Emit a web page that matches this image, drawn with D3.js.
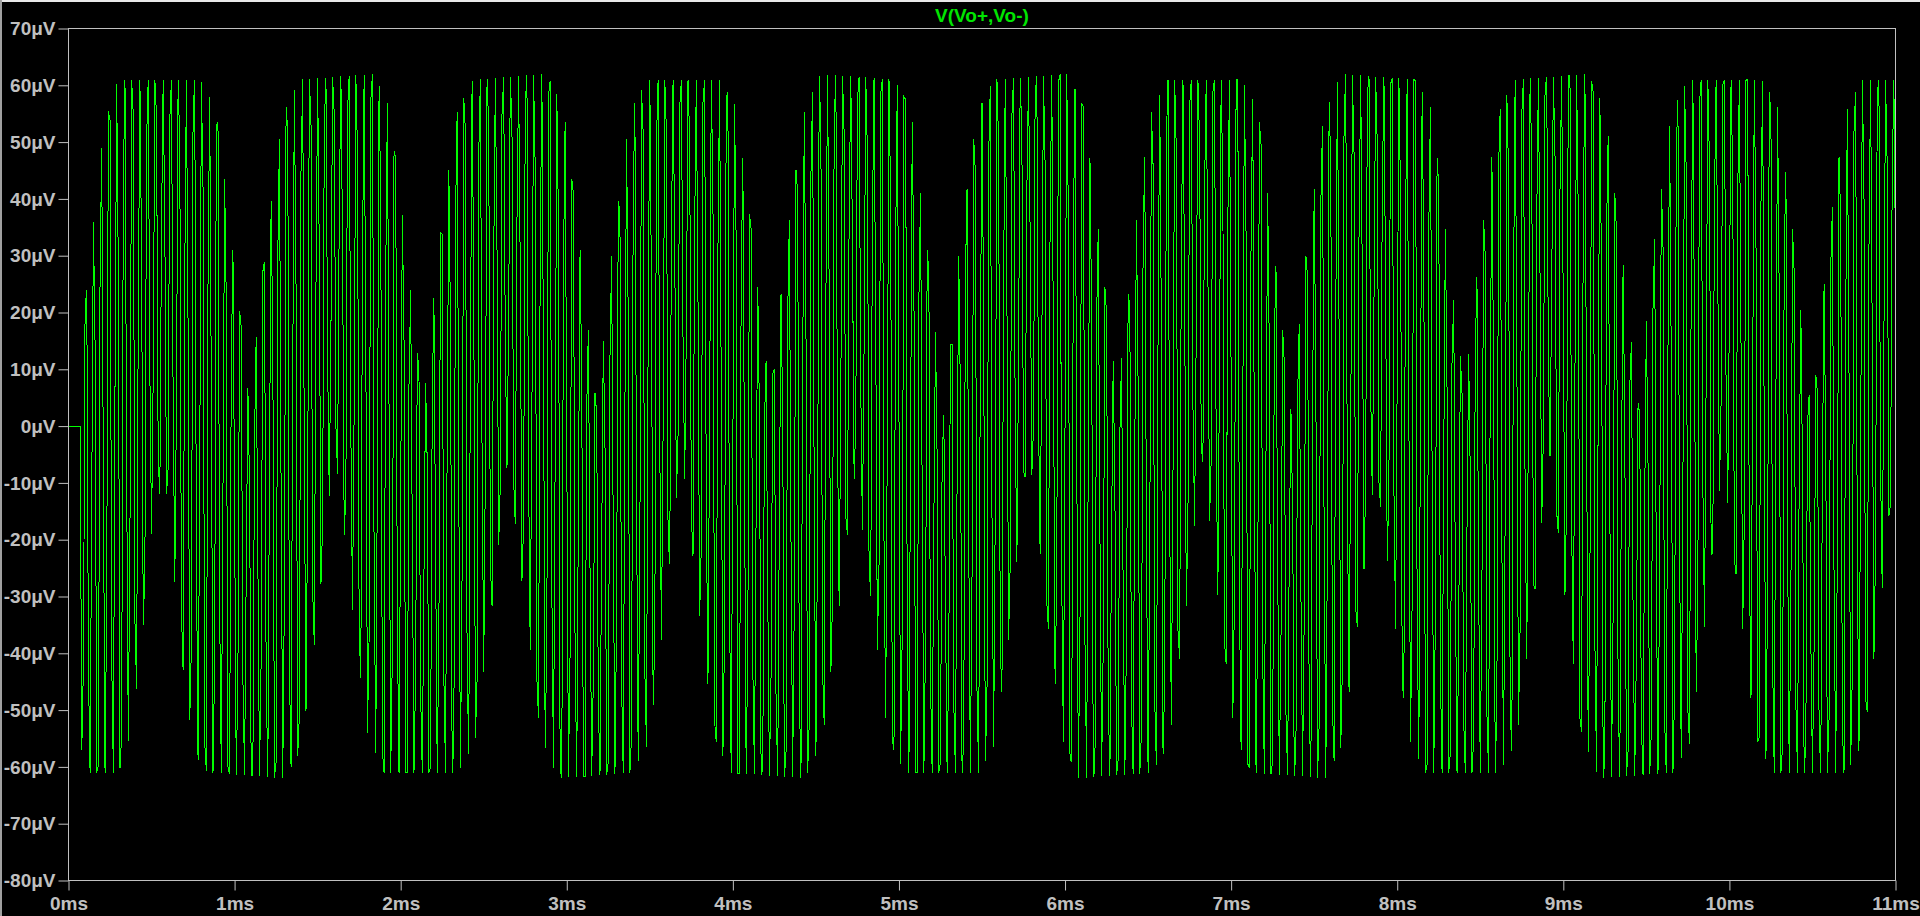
<!DOCTYPE html>
<html><head><meta charset="utf-8">
<script src="https://cdn.jsdelivr.net/npm/d3@7"></script>
<style>html,body{margin:0;padding:0;background:#000;overflow:hidden}</style>
</head><body>
<svg id="chart" width="1920" height="916"></svg>
<script>
// ---------- data ----------
const traceName = "V(Vo+,Vo-)";
const yTickValues = [70,60,50,40,30,20,10,0,-10,-20,-30,-40,-50,-60,-70,-80];
const yTickLabels = ["70μV","60μV","50μV","40μV","30μV","20μV","10μV","0μV","-10μV","-20μV","-30μV","-40μV","-50μV","-60μV","-70μV","-80μV"];
const xTickValues = [0,1,2,3,4,5,6,7,8,9,10,11];
const xTickLabels = ["0ms","1ms","2ms","3ms","4ms","5ms","6ms","7ms","8ms","9ms","10ms","11ms"];

// upper envelope of the waveform (time in ms, value in μV)
const upperT = [0.07,0.10,0.15,0.20,0.25,0.30,
  0.79,0.89,0.99,1.09,1.19,1.29,1.39,
  1.835,1.935,2.035,2.135,2.235,2.335,2.435,
  2.88,2.98,3.08,3.18,3.28,3.38,3.48,
  3.925,4.025,4.125,4.225,4.325,4.425,4.525,
  4.97,5.07,5.17,5.27,5.37,5.47,5.57,
  6.015,6.115,6.215,6.315,6.415,6.515,6.615,
  7.06,7.16,7.26,7.36,7.46,7.56,7.66,
  8.105,8.205,8.305,8.405,8.505,8.605,8.705,
  9.15,9.25,9.35,9.45,9.55,9.65,9.75,
  10.195,10.295,10.395,10.495,10.595,10.695,10.795,
  11.00];
const upperV = [2,21,36,49,57,61,
  61,56,31,4,33,55,61,
  62,56,31,3,33,55,61,
  62,56,31,3,33,55,61,
  61,56,31,5,33,55,62,
  61,56,31,2,33,55,61,
  62,56,31,5,33,55,61,
  61,56,31,3,33,55,62,
  61,56,31,6,33,55,61,
  62,56,31,4,33,55,61,
  61,56,31,1,33,55,61,
  61];
// lower envelope
const lowerT = [0.07,0.08,0.12,0.30,0.35,0.40,0.45,0.50,0.55,0.59,0.645,0.69,0.74,0.79,0.85,
  1.30,1.40,1.50,1.60,1.70,1.80,1.90,
  2.345,2.445,2.545,2.645,2.745,2.845,2.945,
  3.39,3.49,3.59,3.69,3.79,3.89,3.99,
  4.435,4.535,4.635,4.735,4.835,4.935,5.035,
  5.48,5.58,5.68,5.78,5.88,5.98,6.08,
  6.525,6.625,6.725,6.825,6.925,7.025,7.125,
  7.57,7.67,7.77,7.87,7.97,8.07,8.17,
  8.615,8.715,8.815,8.915,9.015,9.115,9.215,
  9.66,9.76,9.86,9.96,10.06,10.16,10.26,
  10.705,10.805,10.905,11.00];
const lowerV = [-2,-57,-61,-61,-57,-49,-35,-19,-12,-12,-29,-43,-54,-60,-61,
  -62,-57,-34,-3,-30,-54,-61,
  -61,-56,-33,-6,-31,-55,-62,
  -61,-56,-33,-4,-31,-55,-61,
  -62,-56,-33,-8,-31,-55,-61,
  -61,-56,-33,-3,-31,-55,-62,
  -61,-56,-33,-5,-31,-55,-61,
  -62,-56,-33,-7,-31,-55,-61,
  -61,-56,-33,-4,-31,-55,-62,
  -61,-56,-33,-6,-31,-55,-61,
  -61,-56,-33,-5];

const holdUntilMs = 0.07;     // flat 0 μV at start
const carrierKHz = 21.5;      // fast oscillation inside the envelope
const sampleStepMs = 0.01;    // simulator time step
const overdrive = 1.3;

// ---------- drawing ----------
const svg = d3.select("#chart");
const W = 1920, H = 916;
const L = 68.5, R = 1895.5, T = 28.5, B = 880.5;
const font = "'Liberation Sans', Arial, sans-serif";
const grey = "#c0c0c0";

svg.append("rect").attr("width", W).attr("height", H).attr("fill", "#000");
// window edges
svg.append("line").attr("x1",0).attr("x2",W).attr("y1",1).attr("y2",1).attr("stroke","#e8e8e8").attr("stroke-width",2);
svg.append("line").attr("x1",1).attr("x2",1).attr("y1",0).attr("y2",H).attr("stroke","#a0a0a0").attr("stroke-width",2);

const x = d3.scaleLinear().domain([0, 11]).range([L, R]);
const y = d3.scaleLinear().domain([-80, 70]).range([B, T]);
const upper = d3.scaleLinear().domain(upperT).range(upperV).clamp(true);
const lower = d3.scaleLinear().domain(lowerT).range(lowerV).clamp(true);

// trace samples
const pts = [[0, 0], [holdUntilMs, 0]];
const n = Math.round((11 - holdUntilMs) / sampleStepMs);
for (let i = 1; i <= n; i++) {
  const t = holdUntilMs + i * sampleStepMs;
  const u = upper(t), l = lower(t);
  const mid = (u + l) / 2, half = (u - l) / 2;
  const s = -Math.sin(2 * Math.PI * carrierKHz * (t - holdUntilMs));
  const v = Math.max(l, Math.min(u, mid + overdrive * half * s));
  pts.push([t, v]);
}

svg.append("clipPath").attr("id","clip").append("rect")
  .attr("x", L).attr("y", T).attr("width", R - L).attr("height", B - T);

svg.append("path")
  .datum(pts)
  .attr("clip-path","url(#clip)")
  .attr("fill","none")
  .attr("stroke","#00ff00")
  .attr("stroke-width",1)
  .attr("shape-rendering","crispEdges")
  .attr("d", d3.line().x(d => x(d[0])).y(d => y(d[1])));

// frame
svg.append("rect").attr("x",L).attr("y",T).attr("width",R-L).attr("height",B-T)
  .attr("fill","none").attr("stroke",grey).attr("stroke-width",1);

// y axis
const yAxis = svg.append("g").attr("transform",`translate(${L},0)`)
  .call(d3.axisLeft(y).tickValues(yTickValues).tickSize(10).tickSizeOuter(0)
    .tickFormat((d,i) => yTickLabels[i]));
yAxis.select(".domain").remove();
yAxis.selectAll(".tick line").attr("stroke",grey);
yAxis.selectAll(".tick text").attr("fill",grey).attr("font-family",font)
  .attr("font-size",19).attr("font-weight","bold").attr("x",-13).attr("dy","0.33em");

// x axis
const xAxis = svg.append("g").attr("transform",`translate(0,${B})`)
  .call(d3.axisBottom(x).tickValues(xTickValues).tickSize(10).tickSizeOuter(0)
    .tickFormat((d,i) => xTickLabels[i]));
xAxis.select(".domain").remove();
xAxis.selectAll(".tick line").attr("stroke",grey);
xAxis.selectAll(".tick text").attr("fill",grey).attr("font-family",font)
  .attr("font-size",19).attr("font-weight","bold").attr("y",16);

// title
svg.append("text").attr("x",(L+R)/2).attr("y",22).attr("text-anchor","middle")
  .attr("fill","#00e600").attr("font-family",font).attr("font-size",19)
  .attr("font-weight","bold").text(traceName);
</script>
</body></html>
